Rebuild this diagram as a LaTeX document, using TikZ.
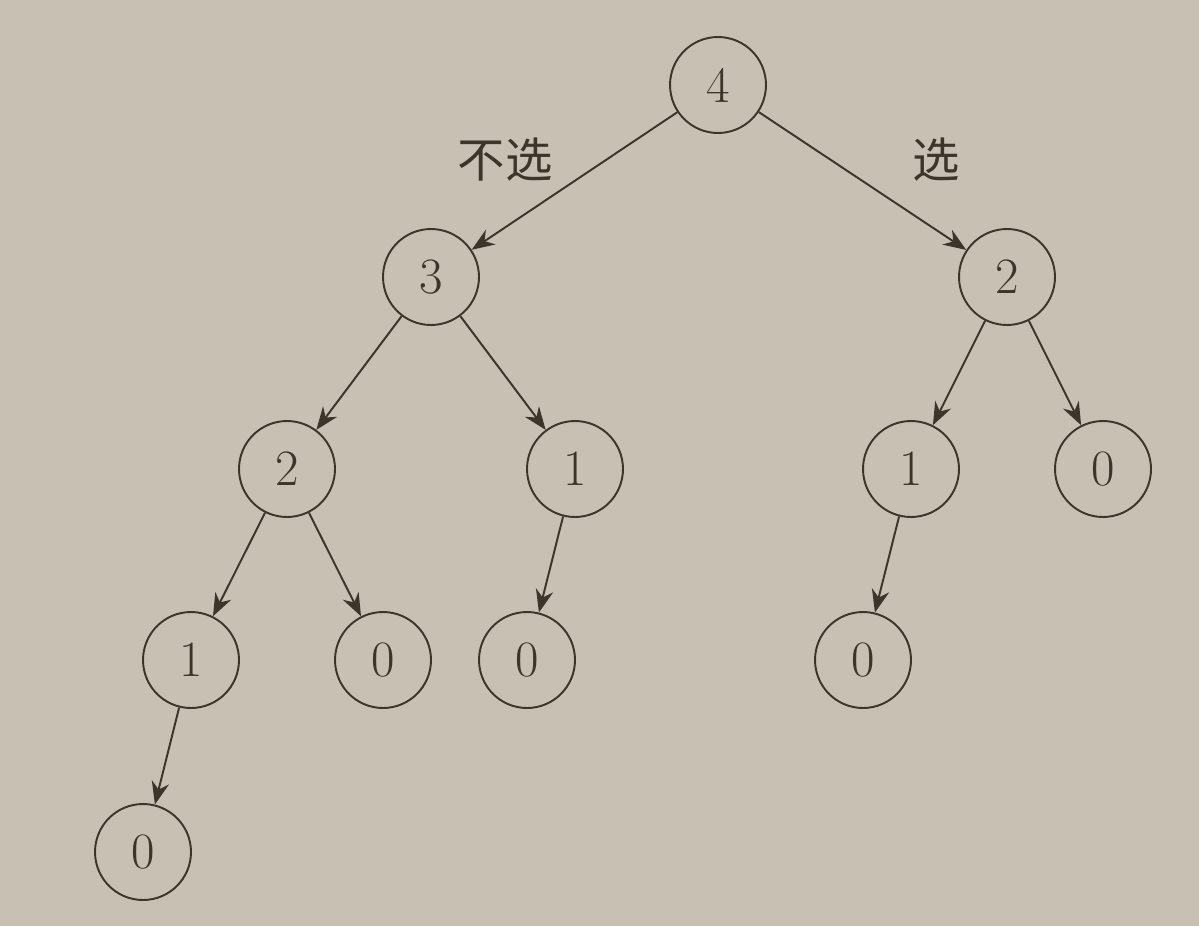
\documentclass[tikz,border=0pt]{standalone}
\usepackage{fontspec}
\newfontfamily\cjk{Noto Sans CJK SC}
\usetikzlibrary{arrows.meta}
\definecolor{bg}{RGB}{200,192,178}
\definecolor{ink}{RGB}{62,52,42}
\begin{document}
\begin{tikzpicture}[x=0.02cm,y=-0.02cm,
  nd/.style={circle,draw=ink,line width=1.1pt,minimum size=1.92cm,inner sep=0pt,text=ink,font=\fontsize{29}{30}\selectfont},
  ed/.style={draw=ink,line width=1.1pt,-{Stealth[length=13pt,width=10pt]}},
  lb/.style={text=ink,font=\cjk\fontsize{27}{30}\selectfont}]
\fill[bg] (0,0) rectangle (1199,926);
\useasboundingbox (0,0) rectangle (1199,926);
\node[nd] (a) at (718,85) {4};
\node[nd] (b) at (431,277) {3};
\node[nd] (c) at (1007,277) {2};
\node[nd] (d) at (287,469) {2};
\node[nd] (e) at (575,469) {1};
\node[nd] (f) at (911,469) {1};
\node[nd] (g) at (1103,469) {0};
\node[nd] (h) at (191,660) {1};
\node[nd] (i) at (383,660) {0};
\node[nd] (j) at (527,660) {0};
\node[nd] (k) at (863,660) {0};
\node[nd] (l) at (143,852) {0};
\node[lb] (t1) at (505,160) {不选};
\node[lb] (t2) at (936,160) {选};
\draw[ed] (a) -- (b);
\draw[ed] (a) -- (c);
\draw[ed] (b) -- (d);
\draw[ed] (b) -- (e);
\draw[ed] (c) -- (f);
\draw[ed] (c) -- (g);
\draw[ed] (d) -- (h);
\draw[ed] (d) -- (i);
\draw[ed] (e) -- (j);
\draw[ed] (f) -- (k);
\draw[ed] (h) -- (l);
\end{tikzpicture}
\end{document}
